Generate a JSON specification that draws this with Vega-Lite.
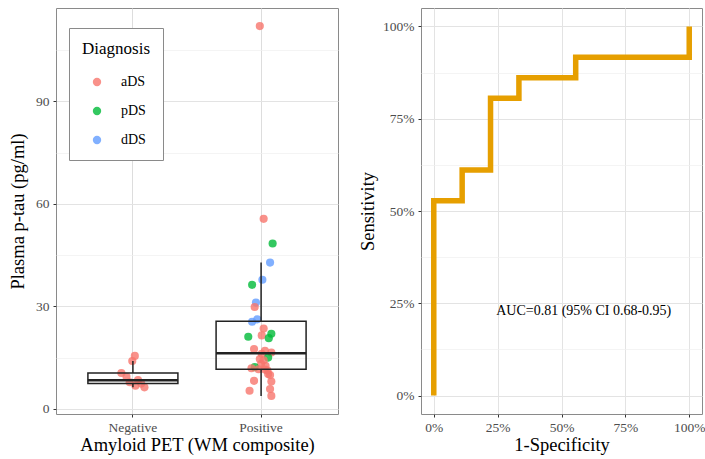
{
  "$schema": "https://vega.github.io/schema/vega-lite/v6.json",
  "background": "white",
  "padding": {"left": 8, "top": 7, "right": 0, "bottom": 2},
  "spacing": 19,
  "datasets": {
    "pts": [
      {"amyloid": "Negative", "diagnosis": "aDS", "ptau": 15.5, "jitter": 0.015},
      {"amyloid": "Negative", "diagnosis": "aDS", "ptau": 14.0, "jitter": -0.005},
      {"amyloid": "Negative", "diagnosis": "aDS", "ptau": 10.5, "jitter": -0.09},
      {"amyloid": "Negative", "diagnosis": "aDS", "ptau": 9.4, "jitter": -0.05},
      {"amyloid": "Negative", "diagnosis": "aDS", "ptau": 8.4, "jitter": 0.04},
      {"amyloid": "Negative", "diagnosis": "aDS", "ptau": 7.8, "jitter": -0.025},
      {"amyloid": "Negative", "diagnosis": "aDS", "ptau": 7.4, "jitter": 0.065},
      {"amyloid": "Negative", "diagnosis": "aDS", "ptau": 6.8, "jitter": 0.02},
      {"amyloid": "Negative", "diagnosis": "aDS", "ptau": 6.3, "jitter": 0.09},
      {"amyloid": "Positive", "diagnosis": "aDS", "ptau": 112.0, "jitter": -0.01},
      {"amyloid": "Positive", "diagnosis": "aDS", "ptau": 55.6, "jitter": 0.02},
      {"amyloid": "Positive", "diagnosis": "pDS", "ptau": 48.4, "jitter": 0.09},
      {"amyloid": "Positive", "diagnosis": "dDS", "ptau": 42.8, "jitter": 0.07},
      {"amyloid": "Positive", "diagnosis": "dDS", "ptau": 37.8, "jitter": 0.01},
      {"amyloid": "Positive", "diagnosis": "pDS", "ptau": 36.3, "jitter": -0.07},
      {"amyloid": "Positive", "diagnosis": "dDS", "ptau": 31.1, "jitter": -0.04},
      {"amyloid": "Positive", "diagnosis": "aDS", "ptau": 29.8, "jitter": -0.05},
      {"amyloid": "Positive", "diagnosis": "dDS", "ptau": 26.2, "jitter": -0.03},
      {"amyloid": "Positive", "diagnosis": "dDS", "ptau": 25.5, "jitter": -0.07},
      {"amyloid": "Positive", "diagnosis": "aDS", "ptau": 23.5, "jitter": 0.02},
      {"amyloid": "Positive", "diagnosis": "pDS", "ptau": 22.0, "jitter": 0.08},
      {"amyloid": "Positive", "diagnosis": "aDS", "ptau": 21.5, "jitter": 0.005},
      {"amyloid": "Positive", "diagnosis": "pDS", "ptau": 21.1, "jitter": -0.1},
      {"amyloid": "Positive", "diagnosis": "pDS", "ptau": 20.7, "jitter": 0.06},
      {"amyloid": "Positive", "diagnosis": "aDS", "ptau": 17.5, "jitter": -0.055},
      {"amyloid": "Positive", "diagnosis": "aDS", "ptau": 17.0, "jitter": 0.03},
      {"amyloid": "Positive", "diagnosis": "aDS", "ptau": 16.5, "jitter": 0.08},
      {"amyloid": "Positive", "diagnosis": "aDS", "ptau": 16.1, "jitter": 0.005},
      {"amyloid": "Positive", "diagnosis": "pDS", "ptau": 15.0, "jitter": 0.055},
      {"amyloid": "Positive", "diagnosis": "aDS", "ptau": 14.6, "jitter": -0.01},
      {"amyloid": "Positive", "diagnosis": "aDS", "ptau": 14.2, "jitter": 0.02},
      {"amyloid": "Positive", "diagnosis": "aDS", "ptau": 13.1, "jitter": 0.0},
      {"amyloid": "Positive", "diagnosis": "aDS", "ptau": 12.6, "jitter": 0.035},
      {"amyloid": "Positive", "diagnosis": "pDS", "ptau": 12.2, "jitter": -0.05},
      {"amyloid": "Positive", "diagnosis": "aDS", "ptau": 11.9, "jitter": -0.075},
      {"amyloid": "Positive", "diagnosis": "aDS", "ptau": 11.6, "jitter": -0.02},
      {"amyloid": "Positive", "diagnosis": "aDS", "ptau": 11.5, "jitter": 0.03},
      {"amyloid": "Positive", "diagnosis": "aDS", "ptau": 11.2, "jitter": 0.05},
      {"amyloid": "Positive", "diagnosis": "aDS", "ptau": 10.2, "jitter": 0.055},
      {"amyloid": "Positive", "diagnosis": "aDS", "ptau": 9.9, "jitter": 0.07},
      {"amyloid": "Positive", "diagnosis": "aDS", "ptau": 8.2, "jitter": -0.055},
      {"amyloid": "Positive", "diagnosis": "aDS", "ptau": 8.0, "jitter": 0.08},
      {"amyloid": "Positive", "diagnosis": "aDS", "ptau": 5.8, "jitter": 0.07},
      {"amyloid": "Positive", "diagnosis": "aDS", "ptau": 5.3, "jitter": -0.09},
      {"amyloid": "Positive", "diagnosis": "aDS", "ptau": 3.8, "jitter": 0.08}
    ],
    "roc": [
      {"idx": 0, "fpr": 0, "tpr": 0},
      {"idx": 1, "fpr": 0, "tpr": 0.5278},
      {"idx": 2, "fpr": 0.1111, "tpr": 0.6111},
      {"idx": 3, "fpr": 0.2222, "tpr": 0.8056},
      {"idx": 4, "fpr": 0.3333, "tpr": 0.8611},
      {"idx": 5, "fpr": 0.4444, "tpr": 0.8611},
      {"idx": 6, "fpr": 0.5556, "tpr": 0.9167},
      {"idx": 7, "fpr": 0.6667, "tpr": 0.9167},
      {"idx": 8, "fpr": 0.7778, "tpr": 0.9167},
      {"idx": 9, "fpr": 0.8889, "tpr": 0.9167},
      {"idx": 10, "fpr": 1, "tpr": 1}
    ],
    "auc": [
      {"fpr": 0.587, "tpr": 0.23, "label": "AUC=0.81 (95% CI 0.68-0.95)"}
    ]
  },
  "hconcat": [
    {
      "width": 282,
      "height": 406,
      "data": {"name": "pts"},
      "layer": [
        {
          "mark": {"type": "circle", "size": 66, "opacity": 0.8},
          "encoding": {
            "x": {
              "field": "amyloid", "type": "nominal",
              "scale": {"type": "band", "paddingInner": 0, "paddingOuter": 0.1},
              "axis": {"title": "Amyloid PET (WM composite)", "labelAngle": 0, "bandPosition": 0.5, "grid": true, "labelPadding": 3, "titlePadding": 2}
            },
            "xOffset": {"field": "jitter", "type": "quantitative", "scale": {"domain": [-0.5, 0.5]}},
            "y": {
              "field": "ptau", "type": "quantitative", "title": "Plasma p-tau (pg/ml)",
              "scale": {"domain": [-1.5, 117.3], "nice": false, "zero": false},
              "axis": {
                "title": "Plasma p-tau (pg/ml)",
                "values": [0, 15, 30, 45, 60, 75, 90, 105],
                "labelExpr": "datum.value % 30 === 0 ? datum.label : ''",
                "tickOpacity": {"condition": {"test": "datum.value % 30 === 0", "value": 1}, "value": 0},
                "gridColor": {"condition": {"test": "datum.value % 30 === 0", "value": "#E3E3E3"}, "value": "#EFEFEF"},
                "gridWidth": {"condition": {"test": "datum.value % 30 === 0", "value": 1}, "value": 0.7},
                "titlePadding": 8,
                "labelPadding": 4
              }
            },
            "color": {
              "field": "diagnosis", "type": "nominal",
              "scale": {"domain": ["aDS", "pDS", "dDS"], "range": ["#F8766D", "#00BA38", "#619CFF"]},
              "legend": {
                "title": "Diagnosis",
                "orient": "none",
                "legendX": 13,
                "legendY": 20,
                "padding": 13,
                "strokeColor": "#8a8a8a",
                "fillColor": "white",
                "titleFont": "Liberation Serif",
                "labelFont": "Liberation Serif",
                "titleFontSize": 17,
                "titleFontWeight": "normal",
                "titleColor": "black",
                "titlePadding": 17,
                "labelFontSize": 14,
                "labelColor": "black",
                "symbolType": "circle",
                "symbolSize": 70,
                "symbolOpacity": 0.8,
                "symbolStrokeWidth": 0,
                "symbolOffset": 8,
                "labelOffset": 17,
                "rowPadding": 15
              }
            }
          }
        },
        {
          "mark": {
            "type": "boxplot",
            "extent": 1.5,
            "size": 90,
            "outliers": false,
            "box": {"fill": "white", "fillOpacity": 0, "stroke": "#222", "strokeWidth": 1.5},
            "median": {"color": "#222", "thickness": 2.5, "opacity": 1},
            "rule": {"stroke": "#222", "strokeWidth": 1.5}
          },
          "encoding": {
            "x": {"field": "amyloid", "type": "nominal"},
            "y": {"field": "ptau", "type": "quantitative", "title": "Plasma p-tau (pg/ml)"}
          }
        }
      ]
    },
    {
      "width": 281,
      "height": 406,
      "layer": [
        {
          "data": {"name": "roc"},
          "mark": {"type": "line", "interpolate": "step-after", "color": "#E69F00", "strokeWidth": 5.5, "strokeCap": "butt"},
          "encoding": {
            "x": {
              "field": "fpr", "type": "quantitative",
              "scale": {"domain": [-0.05, 1.05], "nice": false, "zero": false},
              "axis": {
                "title": "1-Specificity",
                "format": ".0%",
                "values": [0, 0.125, 0.25, 0.375, 0.5, 0.625, 0.75, 0.875, 1],
                "labelExpr": "(datum.value * 100) % 25 === 0 ? datum.label : ''",
                "tickOpacity": {"condition": {"test": "(datum.value * 100) % 25 === 0", "value": 1}, "value": 0},
                "gridColor": {"condition": {"test": "(datum.value * 100) % 25 === 0", "value": "#E3E3E3"}, "value": "#EFEFEF"},
                "gridWidth": {"condition": {"test": "(datum.value * 100) % 25 === 0", "value": 1}, "value": 0.7},
                "labelPadding": 3,
                "titlePadding": 2
              }
            },
            "y": {
              "field": "tpr", "type": "quantitative",
              "scale": {"domain": [-0.05, 1.05], "nice": false, "zero": false},
              "axis": {
                "title": "Sensitivity",
                "format": ".0%",
                "values": [0, 0.125, 0.25, 0.375, 0.5, 0.625, 0.75, 0.875, 1],
                "labelExpr": "(datum.value * 100) % 25 === 0 ? datum.label : ''",
                "tickOpacity": {"condition": {"test": "(datum.value * 100) % 25 === 0", "value": 1}, "value": 0},
                "gridColor": {"condition": {"test": "(datum.value * 100) % 25 === 0", "value": "#E3E3E3"}, "value": "#EFEFEF"},
                "gridWidth": {"condition": {"test": "(datum.value * 100) % 25 === 0", "value": 1}, "value": 0.7},
                "titlePadding": 5,
                "labelPadding": 4
              }
            },
            "order": {"field": "idx", "type": "quantitative"}
          }
        },
        {
          "data": {"name": "auc"},
          "mark": {"type": "text", "font": "Liberation Serif", "fontSize": 14, "color": "black"},
          "encoding": {
            "x": {"field": "fpr", "type": "quantitative"},
            "y": {"field": "tpr", "type": "quantitative"},
            "text": {"field": "label", "type": "nominal"}
          }
        }
      ]
    }
  ],
  "config": {
    "font": "Liberation Serif",
    "view": {"stroke": "#8a8a8a", "strokeWidth": 1},
    "axis": {
      "domain": false,
      "labelFont": "Liberation Serif",
      "titleFont": "Liberation Serif",
      "labelColor": "#4D4D4D",
      "labelFontSize": 13.5,
      "titleFontSize": 18.5,
      "titleFontWeight": "normal",
      "titleColor": "black",
      "tickColor": "#333333",
      "tickSize": 3,
      "grid": true
    },
    "legend": {"labelFont": "Liberation Serif", "titleFont": "Liberation Serif"}
  }
}
